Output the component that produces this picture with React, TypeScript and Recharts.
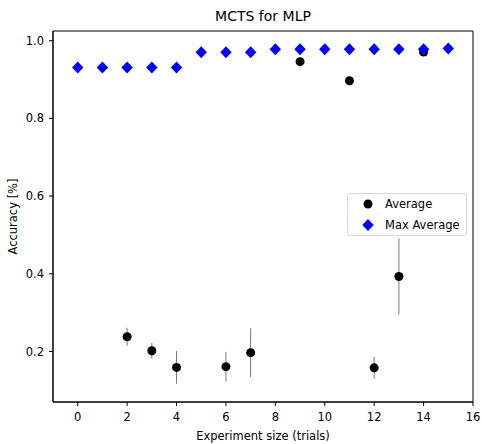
import React from 'react';
import { ScatterChart, Scatter, XAxis, YAxis, ErrorBar, ReferenceArea } from 'recharts';

// Average accuracy (black dots with std error bars)
const avgTrials = [2, 3, 4, 6, 7, 9, 11, 12, 13, 14];
const avgValues = [0.238, 0.202, 0.159, 0.161, 0.197, 0.946, 0.897, 0.158, 0.393, 0.971];
const avgErrors = [0.023, 0.02, 0.042, 0.038, 0.063, 0, 0, 0.028, 0.098, 0];

// Max average accuracy (blue diamonds)
const maxTrials = [0, 1, 2, 3, 4, 5, 6, 7, 8, 9, 10, 11, 12, 13, 14, 15];
const maxValues = [0.931, 0.931, 0.931, 0.931, 0.931, 0.97, 0.97, 0.97, 0.978, 0.978, 0.978, 0.978, 0.978, 0.978, 0.978, 0.98];

const xTicks = [0, 2, 4, 6, 8, 10, 12, 14, 16];
const yTicks = [0.2, 0.4, 0.6, 0.8, 1.0];
const xDomain = [-1, 16];
const yDomain = [0.07, 1.025];

const avgData = avgTrials.map((x, i) => ({ x, y: avgValues[i], err: avgErrors[i] }));
const maxData = maxTrials.map((x, i) => ({ x, y: maxValues[i] }));

const FONT = "'DejaVu Sans', sans-serif";
const tickStyle = { fill: '#000', fontSize: 11.5, fontFamily: FONT };

const Dot = ({ cx, cy }: any) => <circle cx={cx} cy={cy} r={4.5} fill="#000" />;

const Diamond = ({ cx, cy }: any) => (
  <path d={`M${cx},${cy - 6} L${cx + 5.7},${cy} L${cx},${cy + 6} L${cx - 5.7},${cy} Z`} fill="#0000ff" />
);

const LegendBox = () => (
  <div
    style={{
      position: 'absolute',
      left: 347,
      top: 193,
      width: 120,
      height: 43,
      boxSizing: 'border-box',
      border: '1px solid #d9d9d9',
      borderRadius: 3,
      background: 'rgba(255,255,255,0.85)',
    }}
  >
    <svg width={120} height={43} style={{ position: 'absolute', left: -1, top: -1 }}>
      <circle cx={21} cy={11} r={4.5} fill="#000" />
      <path d="M21,26 L26.7,32 L21,38 L15.3,32 Z" fill="#0000ff" />
      <text x={38} y={15} fontSize={11.5} fontFamily={FONT}>Average</text>
      <text x={38} y={36} fontSize={11.5} fontFamily={FONT}>Max Average</text>
    </svg>
  </div>
);

export default function App() {
  return (
    <div style={{ position: 'absolute', left: 0, top: 0, width: 482, height: 444, background: '#fff' }}>
      <ScatterChart width={482} height={444} margin={{ top: 31, right: 9, bottom: 0, left: 0 }}>
        <XAxis
          type="number"
          dataKey="x"
          domain={xDomain}
          ticks={xTicks}
          allowDataOverflow
          height={42}
          tickSize={4}
          tickMargin={7}
          tick={tickStyle}
          stroke="#000"
          label={{ value: 'Experiment size (trials)', position: 'insideBottom', offset: 4, fill: '#000', fontSize: 11.5, fontFamily: FONT }}
        />
        <YAxis
          type="number"
          dataKey="y"
          domain={yDomain}
          ticks={yTicks}
          allowDataOverflow
          width={53}
          tickSize={4}
          tickMargin={5}
          tick={tickStyle}
          tickFormatter={(v: number) => v.toFixed(1)}
          stroke="#000"
          label={{
            value: 'Accuracy [%]',
            angle: -90,
            position: 'insideLeft',
            offset: 13,
            fill: '#000',
            fontSize: 11.5,
            fontFamily: FONT,
            style: { textAnchor: 'middle' },
          }}
        />
        {/* plot frame + title */}
        <ReferenceArea
          x1={xDomain[0]}
          x2={xDomain[1]}
          y1={yDomain[0]}
          y2={yDomain[1]}
          fill="none"
          fillOpacity={0}
          stroke="#000"
          strokeWidth={1}
          strokeOpacity={1}
          label={{ value: 'MCTS for MLP', position: 'top', offset: 10.5, fill: '#000', fontSize: 14, fontFamily: FONT }}
        />
        <Scatter name="Average" data={avgData} shape={<Dot />} isAnimationActive={false}>
          <ErrorBar dataKey="err" direction="y" width={0} stroke="#777" strokeWidth={1} />
        </Scatter>
        <Scatter name="Max Average" data={maxData} shape={<Diamond />} isAnimationActive={false} />
      </ScatterChart>
      <LegendBox />
    </div>
  );
}
